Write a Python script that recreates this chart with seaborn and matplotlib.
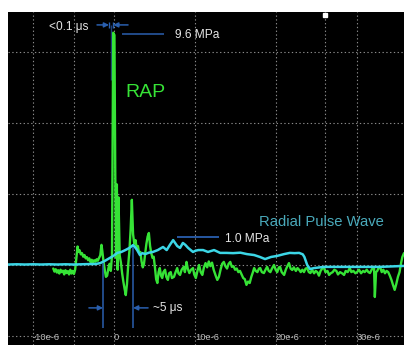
import matplotlib
matplotlib.use("Agg")
import matplotlib.pyplot as plt
import pandas as pd
import seaborn as sns

# RAP trace (green): time in microseconds, pressure in MPa
rap_t = [-7.5, -7.35, -7.2, -7.05, -6.9, -6.75, -6.6, -6.45, -6.3, -6.15, -6.0, -5.85, -5.7,
         -5.55, -5.4, -5.25, -5.1, -4.95, -4.8,
         -4.65, -4.5, -4.4, -4.25, -4.1, -3.95, -3.8, -3.65, -3.5, -3.35, -3.2, -3.05, -2.9,
         -2.75, -2.6, -2.45, -2.3, -2.15, -2.0, -1.85, -1.7, -1.55, -1.45, -1.3, -1.15, -1.0,
         -0.85, -0.7, -0.55, -0.4, -0.25,
         -0.1, 0.05, 0.15, 0.25, 0.35, 0.45, 0.55, 0.7, 0.85, 1.0, 1.15, 1.3, 1.45, 1.6, 1.75,
         1.9, 2.05, 2.2, 2.35, 2.5, 2.65, 2.8, 2.95, 3.1, 3.25, 3.4, 3.55, 3.7, 3.85, 4.0, 4.15,
         4.3, 4.45, 4.6, 4.75, 4.9, 5.05, 5.2, 5.35,
         5.5, 5.65, 5.8, 5.95, 6.1, 6.3, 6.45, 6.65, 6.8, 7.0, 7.15, 7.4, 7.6, 7.8, 7.95, 8.15,
         8.35, 8.6, 8.75, 8.95, 9.1, 9.3, 9.5, 9.75, 9.9, 10.1, 10.3, 10.5, 10.7, 10.9, 11.1,
         11.3, 11.5, 11.7, 11.9, 12.1, 12.3, 12.55, 12.75, 12.95, 13.15, 13.35, 13.55, 13.75,
         13.95, 14.15, 14.35, 14.55, 14.75, 14.95, 15.15, 15.35, 15.55, 15.75, 15.95, 16.15,
         16.35, 16.55, 16.75, 16.95, 17.15, 17.3, 17.5, 17.7, 17.9, 18.05, 18.25, 18.5, 18.7,
         18.9, 19.1, 19.3, 19.5, 19.75, 19.95, 20.15, 20.35, 20.5, 20.7, 21.0, 21.2, 21.4, 21.6,
         21.8, 22.0, 22.2, 22.45, 22.65, 22.85, 23.05, 23.25, 23.45, 23.65, 23.85, 24.05, 24.25,
         24.45, 24.7, 24.9, 25.1, 25.3, 25.5, 25.7, 25.9, 26.1, 26.35, 26.55, 26.75, 27.0, 27.2,
         27.45, 27.65, 27.9, 28.15, 28.4, 28.6, 28.85, 29.1, 29.3, 29.55, 29.8, 30.0, 30.25,
         30.5, 30.75, 30.95, 31.2, 31.4, 31.6, 31.8, 32.0, 32.1, 32.2, 32.35, 32.5, 32.7, 32.85,
         33.05, 33.25, 33.45, 33.65, 33.85, 34.05, 34.25, 34.45, 34.65, 34.85, 35.05, 35.25,
         35.45, 35.6, 35.8]
rap_p = [-0.15, -0.28, -0.18, -0.32, -0.22, -0.36, -0.2, -0.3, -0.24, -0.4, -0.22, -0.34, -0.26,
         -0.4, -0.2, -0.36, -0.25, -0.38, -0.2,
         0.3, 0.78, 0.55, 0.62, 0.45, 0.5, 0.35, 0.42, 0.28, 0.33, 0.2, 0.28, 0.12,
         0.22, 0.1, 0.2, 0.14, 0.24, 0.18, 0.3, 0.4, 0.85, 0.6, 0.15, -0.2, -0.5,
         -0.45, -0.15, 0.05, -0.25, 0.4,
         9.8, 9.7, 4.0, 0.3, 3.4, -0.2, 2.85, 0.4, 0.1, -0.35, -0.7, -1.0, -1.27, -0.8, 0.0,
         0.6, 1.5, 2.75, 1.3, 0.9, 1.05, 0.7, 0.8, 0.5, 0.55, 0.15, -0.1, 0.05, 0.5, 0.9, 1.2,
         1.35, 0.8, 0.5, 0.3, 0.35, -0.1, -0.6, -0.76,
         -0.3, -0.13, -0.45, -0.55, -0.3, -0.2, -0.5, -0.63, -0.35, -0.3, -0.55, -0.5, -0.3,
         -0.13, -0.35, -0.42,
         -0.2, -0.08, -0.3, 0.13, -0.15, -0.34, -0.2, -0.13, -0.4, -0.55, -0.25, 0.0, -0.3,
         -0.42, -0.1,
         0.08, -0.1, 0.15, -0.05, 0.1, -0.2, -0.45, -0.63, -0.5, -0.2, 0.05, 0.13, -0.05,
         -0.15, 0.05, 0.13, -0.08, -0.05, -0.2, -0.15, -0.3, -0.25, -0.4, -0.55, -0.6,
         -0.84, -0.7, -0.76, -0.5, -0.3, -0.13, -0.25, -0.3, -0.15, -0.13, -0.3, -0.34, -0.2,
         -0.08, -0.25, -0.3, -0.15, 0.0, -0.2, -0.3, -0.1, -0.08, -0.3, -0.42, -0.2, -0.05, 0.08,
         -0.15, -0.21, -0.1, -0.25, -0.13, -0.2, -0.3, -0.2, -0.3, -0.15, -0.13, -0.3, -0.34,
         -0.2, -0.35, -0.25, -0.3, -0.45, -0.25, -0.15, -0.1, -0.3, -0.25, -0.42, -0.35, -0.3, -0.2,
         -0.25, -0.4, -0.3, -0.35, -0.42, -0.25, -0.3, -0.13, -0.3, -0.25, -0.35, -0.3, -0.2,
         -0.35, -0.25, -0.3, -0.2, -0.3, -0.34, -0.2, -0.1, -0.08, -1.35, -0.3, -0.25, -0.1, -0.08,
         -0.3, -0.2, -0.35, -0.25, -0.3, -0.45, -0.63, -0.85, -1.05, -0.8, -0.5, -0.3,
         0.1, 0.34, 0.5]

# Radial pulse wave (cyan)
pulse_t = [-13.1, -12.0, -11.0, -10.0, -9.0, -8.0, -7.0, -6.0, -5.0, -4.0, -3.0, -2.3, -1.7,
           -1.1, -0.5, 0.0, 0.4, 0.9, 1.4, 1.9, 2.35, 2.6, 2.85, 3.2, 3.5, 3.85, 4.3, 4.8, 5.4,
           5.75, 6.05, 6.5, 6.9, 7.3, 7.8, 8.15, 8.5, 8.8, 9.15, 9.75, 10.05, 10.4, 11.0, 11.6,
           12.35, 13.1, 13.9, 14.7, 15.6, 16.4, 17.3, 18.0, 18.65, 19.4, 20.1, 21.0, 21.7, 22.3,
           22.85, 23.3, 23.5, 23.85, 24.2, 24.7, 25.9, 27.9, 30.4, 32.8, 35.8]
pulse_p = [0.02, 0.03, 0.02, 0.03, 0.02, 0.03, 0.02, 0.03, 0.02, 0.03, 0.04, 0.04, 0.08,
           0.18, 0.3, 0.4, 0.51, 0.55, 0.63, 0.72, 0.84, 0.75, 0.63, 0.42, 0.5, 0.46, 0.52, 0.55,
           0.63, 0.7, 0.76, 0.63, 0.85, 1.05, 0.8, 0.72, 0.93, 0.85, 0.72, 0.55, 0.6, 0.63, 0.63,
           0.55, 0.63, 0.51, 0.51, 0.5, 0.52, 0.46, 0.42, 0.34, 0.25, 0.34, 0.38, 0.46, 0.51, 0.5,
           0.51, 0.45, 0.34, 0.0, -0.17, -0.13, -0.08, -0.08, -0.08, -0.08, -0.04]

tick_pos = [-10, 0, 10, 20, 30]
tick_labels = ["-10e-6", "0", "10e-6", "20e-6", "30e-6"]
grid_x = [-10, -5, 0, 10, 20, 26, 30]
grid_y = [-3, 0, 3, 6, 9]

# annotation geometry (us, MPa)
rise_arrows = [(-2.1, -0.62), (1.73, -0.1)]
rise_ticks = [-0.62, -0.1]
rise_y = 10.13
peak_marker = (-0.37, 7.8, 10.13)
peak_level = (1.0, 6.2, 9.75)
pulse_level = (7.8, 12.9, 1.18)
delay_arrows = [(-3.1, -1.36), (4.2, 2.35)]
delay_y = -1.81
delay_lines = [(-1.36, 0.08, -2.66), (2.35, 0.76, -2.66)]
trigger_mark = ([26.0], [10.55])

GREEN = "#36e336"
CYAN = "#3cd6e6"
BLUE = "#2a5fae"
TEXT = "#e6e6e6"

sns.set_theme(style="dark", rc={"axes.facecolor": "black", "figure.facecolor": "white"})
plt.rcParams["font.family"] = ["Liberation Sans", "DejaVu Sans"]

fig = plt.figure(figsize=(4.14, 3.55), dpi=100)
ax = fig.add_axes([8 / 414, 10 / 355, 396 / 414, 333 / 355])

for gx in grid_x:
    ax.axvline(gx, color="#8a8a8a", lw=0.8, ls=(0, (1.2, 2.2)), zorder=1)
for gy in grid_y:
    ax.axhline(gy, color="#8a8a8a", lw=0.8, ls=(0, (1.2, 2.2)), zorder=1)

rap = pd.DataFrame({"t": rap_t, "p": rap_p})
pulse = pd.DataFrame({"t": pulse_t, "p": pulse_p})
sns.lineplot(data=rap, x="t", y="p", ax=ax, color=GREEN, lw=1.7,
             estimator=None, sort=False, zorder=3)
sns.lineplot(data=pulse, x="t", y="p", ax=ax, color=CYAN, lw=1.8,
             estimator=None, sort=False, zorder=4)

arrow_kw = dict(arrowstyle="-|>", color=BLUE, lw=1.1, mutation_scale=7,
                shrinkA=0, shrinkB=0)
for x0, x1 in rise_arrows:
    ax.annotate("", xy=(x1, rise_y), xytext=(x0, rise_y), arrowprops=arrow_kw, zorder=5)
ax.vlines(rise_ticks, rise_y - 0.13, rise_y + 0.13, color=BLUE, lw=1.0, zorder=5)
ax.vlines(peak_marker[0], peak_marker[1], peak_marker[2], color="#1d3f7a", lw=1.0, zorder=2)
ax.hlines(peak_level[2], peak_level[0], peak_level[1], color=BLUE, lw=1.1, zorder=5)
ax.hlines(pulse_level[2], pulse_level[0], pulse_level[1], color=BLUE, lw=1.3, zorder=5)
for x0, x1 in delay_arrows:
    ax.annotate("", xy=(x1, delay_y), xytext=(x0, delay_y), arrowprops=arrow_kw, zorder=5)
for x, y0, y1 in delay_lines:
    ax.vlines(x, y1, y0, color=BLUE, lw=1.1, zorder=5)
ax.plot(trigger_mark[0], trigger_mark[1], "s", color="white", ms=3.5, zorder=6)

ax.text(-3.2, 10.04, "<0.1 μs", color=TEXT, fontsize=8.6, ha="right", va="center")
ax.text(7.5, 9.7, "9.6 MPa", color=TEXT, fontsize=8.6, ha="left", va="center")
ax.text(1.36, 7.26, "RAP", color=GREEN, fontsize=14, ha="left", va="center")
ax.text(17.9, 1.81, "Radial Pulse Wave", color="#4aaabb", fontsize=10.6, ha="left", va="center")
ax.text(13.7, 1.1, "1.0 MPa", color=TEXT, fontsize=8.6, ha="left", va="center")
ax.text(4.8, -1.81, "~5 μs", color=TEXT, fontsize=8.6, ha="left", va="center")
for pos, lab in zip(tick_pos, tick_labels):
    ax.text(pos, -3.08, lab, color="#bdbdbd", fontsize=6.7, ha="left", va="center", zorder=5)

ax.set_xlim(-13.09, 35.8)
ax.set_ylim(-3.376, 10.675)
ax.set_xticks([])
ax.set_yticks([])
ax.set_xlabel("")
ax.set_ylabel("")
for s in ax.spines.values():
    s.set_visible(False)

fig.savefig("out.png", dpi=100, facecolor="white")
